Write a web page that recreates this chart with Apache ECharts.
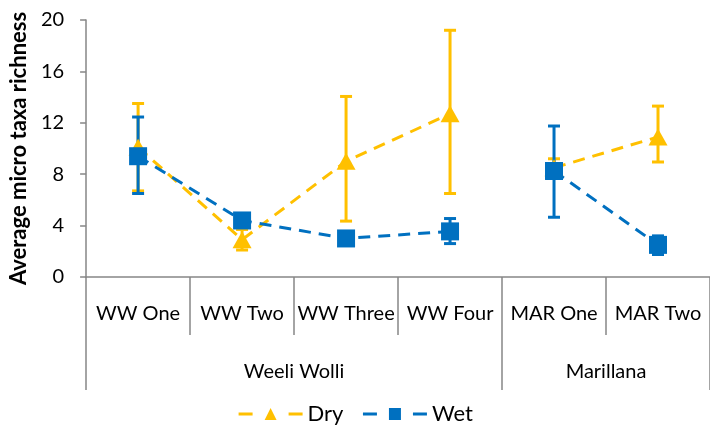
<!DOCTYPE html>
<html>
<head>
<meta charset="utf-8">
<script src="https://cdn.jsdelivr.net/npm/echarts@6/dist/echarts.min.js"></script>
<style>
  html, body { margin: 0; padding: 0; background: #fff; }
  #chart { width: 710px; height: 430px; }
</style>
</head>
<body>
<div id="chart"></div>
<script>
// Sites along the x axis and the river system each belongs to
const categories = ['WW One', 'WW Two', 'WW Three', 'WW Four', 'MAR One', 'MAR Two'];
const groups = ['Weeli Wolli', 'Marillana'];
const groupSpans = [4, 2];

// Average micro taxa richness, with lower / upper ends of the error bars
const dryMean = [10.1, 2.9, 9.0, 12.7, 8.5, 10.9];
const dryLow  = [6.7, 2.1, 4.35, 6.5, 7.8, 8.95];
const dryHigh = [13.5, 3.7, 14.05, 19.2, 9.2, 13.3];

const wetMean = [9.4, 4.4, 3.0, 3.55, 8.25, 2.5];
const wetLow  = [6.5, 4.1, 2.6, 2.6, 4.65, 1.75];
const wetHigh = [12.45, 4.7, 3.4, 4.55, 11.75, 3.2];

// y axis scale
const yMin = 0, yMax = 20, yStep = 4;

const DRY = '#FFC000';
const WET = '#0070C0';
const FONT = 'Lato';
const AXIS_GREY = '#868686';

// Group axis: half-category slots so that group names sit centred on their span
const halfSlots = [];
const groupLabelAt = {};
const groupTickAt = { 0: true };
const groupRanges = [];
let start = 0;
groups.forEach((g, i) => {
  groupLabelAt[start + groupSpans[i]] = g;
  groupRanges.push([start / 2, start / 2 + groupSpans[i] - 1]);
  start += groupSpans[i] * 2;
  groupTickAt[start] = true;
});
for (let i = 0; i <= categories.length * 2; i++) halfSlots.push(groupLabelAt[i] || '');

// Keep only the values of one group so lines do not run across groups
function inGroup(values, range) {
  return values.map((v, i) => (i >= range[0] && i <= range[1]) ? v : '-');
}

function errorSeries(name, low, high, color) {
  return {
    type: 'custom',
    name: name,
    xAxisIndex: 0,
    yAxisIndex: 0,
    data: categories.map((c, i) => [i, low[i], high[i]]),
    renderItem: function (params, api) {
      const lo = api.coord([api.value(0), api.value(1)]);
      const hi = api.coord([api.value(0), api.value(2)]);
      const w = 6;
      const style = { stroke: color, lineWidth: 3, fill: null };
      return {
        type: 'group',
        children: [
          { type: 'line', shape: { x1: lo[0], y1: lo[1], x2: hi[0], y2: hi[1] }, style: style },
          { type: 'line', shape: { x1: lo[0] - w, y1: lo[1], x2: lo[0] + w, y2: lo[1] }, style: style },
          { type: 'line', shape: { x1: hi[0] - w, y1: hi[1], x2: hi[0] + w, y2: hi[1] }, style: style }
        ]
      };
    },
    silent: true
  };
}

function lineSeries(name, values, symbol, size, color) {
  return groupRanges.map(range => ({
    name: name,
    type: 'line',
    data: inGroup(values, range),
    symbol: symbol,
    symbolSize: size,
    itemStyle: { color: color },
    lineStyle: { color: color, width: 3, type: [12, 8] }
  }));
}

const chart = echarts.init(document.getElementById('chart'), null, { renderer: 'canvas' });
chart.setOption({
  animation: false,
  textStyle: { fontFamily: FONT },
  grid: { left: 85, width: 630, top: 20, bottom: 153 },
  legend: {
    data: ['Dry', 'Wet'],
    bottom: 0,
    left: 'center',
    itemWidth: 64,
    itemHeight: 15,
    itemGap: 18,
    lineStyle: { type: [14, 36], width: 3 },
    textStyle: { fontFamily: FONT, fontSize: 22, color: '#000' }
  },
  xAxis: [
    {
      type: 'category',
      data: categories,
      boundaryGap: true,
      axisLine: { show: true, lineStyle: { color: AXIS_GREY, width: 1.5 } },
      axisTick: { show: true, length: 58, lineStyle: { color: AXIS_GREY, width: 1.5 } },
      axisLabel: { fontFamily: FONT, fontSize: 20, color: '#000', margin: 27, interval: 0 }
    },
    {
      type: 'category',
      data: halfSlots,
      position: 'bottom',
      boundaryGap: false,
      axisLine: { show: false },
      axisTick: {
        show: true,
        length: 113,
        interval: function (i) { return !!groupTickAt[i]; },
        lineStyle: { color: AXIS_GREY, width: 1.5 }
      },
      axisLabel: {
        fontFamily: FONT, fontSize: 20, color: '#000', margin: 85,
        interval: function (i) { return !!groupLabelAt[i]; }
      }
    }
  ],
  yAxis: {
    type: 'value',
    min: yMin,
    max: yMax,
    interval: yStep,
    name: 'Average micro taxa richness',
    nameLocation: 'middle',
    nameGap: 56,
    nameTextStyle: { fontFamily: FONT, fontSize: 22, fontWeight: 'bold', color: '#000' },
    axisLine: { show: true, lineStyle: { color: AXIS_GREY, width: 1.5 } },
    axisTick: { show: true, length: 6, lineStyle: { color: AXIS_GREY, width: 1.5 } },
    splitLine: { show: false },
    axisLabel: { fontFamily: FONT, fontSize: 20, color: '#000', margin: 22 }
  },
  series: [
    errorSeries('Dry error', dryLow, dryHigh, DRY),
    ...lineSeries('Dry', dryMean, 'triangle', [19, 17], DRY),
    errorSeries('Wet error', wetLow, wetHigh, WET),
    ...lineSeries('Wet', wetMean, 'rect', 18, WET)
  ]
});
</script>
</body>
</html>
